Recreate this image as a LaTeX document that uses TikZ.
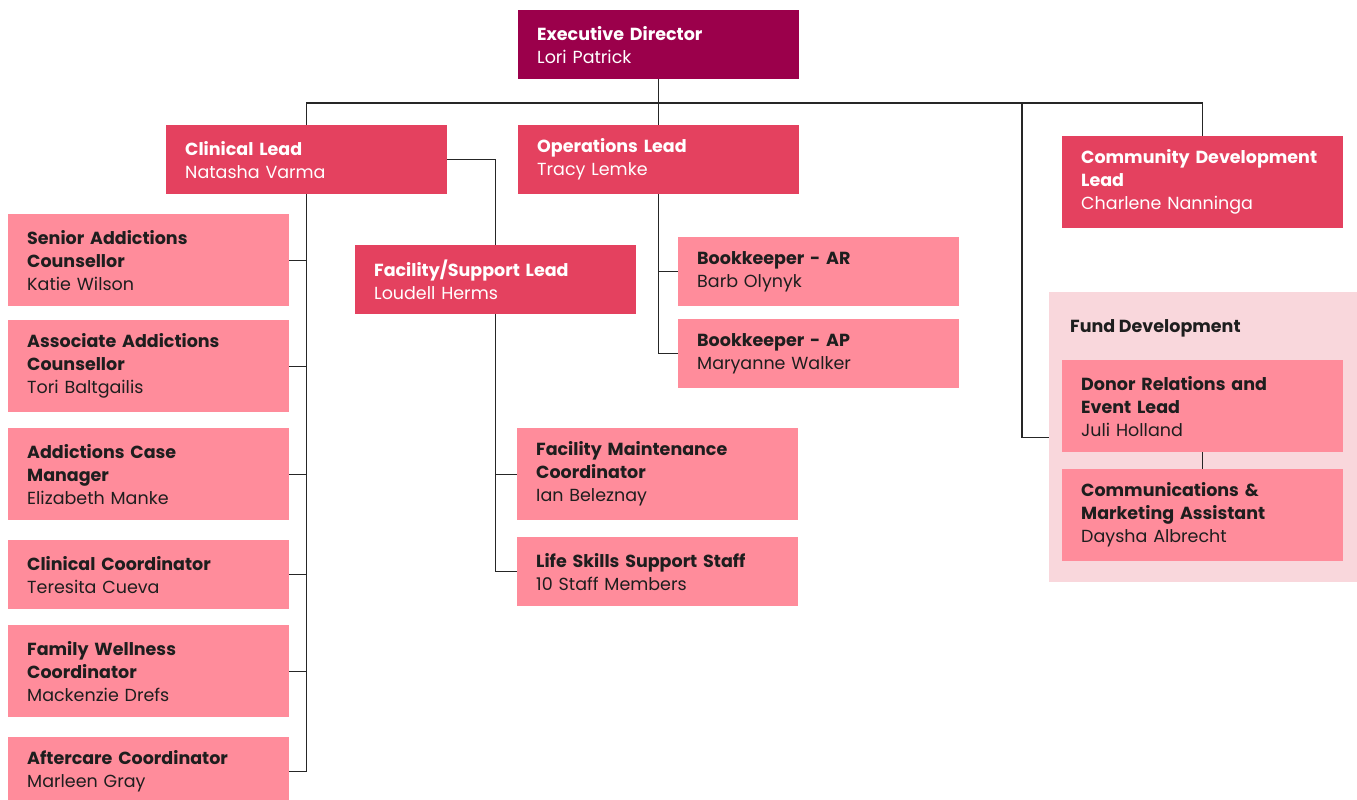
\documentclass[tikz,border=0pt]{standalone}
\usepackage{fontspec}
\setmainfont{Poppins}
\definecolor{execcol}{HTML}{9B004B}
\definecolor{leadcol}{HTML}{E4415F}
\definecolor{staffcol}{HTML}{FF8C9B}
\definecolor{groupcol}{HTML}{F9D7DC}
\definecolor{inkcol}{HTML}{1E1E1E}
\begin{document}
\begin{tikzpicture}[x=1pt,y=-1pt,
    box/.style={anchor=north west,rectangle,minimum height=69pt,inner xsep=19pt,inner ysep=2pt,text width=243pt,align=left,font=\fontsize{17.5}{23}\selectfont},
    tall/.style={minimum height=92pt},
    execbox/.style={box,fill=execcol,text=white},
    leadbox/.style={box,fill=leadcol,text=white},
    staffbox/.style={box,fill=staffcol,text=inkcol},
    link/.style={draw=black!85,line width=1.3pt}]
    \useasboundingbox (0,0) rectangle (1357,800);
    % fund development group
    \node[anchor=north west,fill=groupcol,minimum width=308pt,minimum height=290pt,inner sep=0pt] (fund) at (1049,292) {};
    \node[anchor=base west,inner sep=0pt,text=inkcol,font=\fontsize{17.5}{23}\selectfont\bfseries] (fundlbl) at (1070,332) {Fund Development};
    % top and leads
    \node[execbox] (exec) at (518,10) {\textbf{Executive Director}\\Lori Patrick};
    \node[leadbox] (clin) at (166,125) {\textbf{Clinical Lead}\\Natasha Varma};
    \node[leadbox] (ops) at (518,125) {\textbf{Operations Lead}\\Tracy Lemke};
    \node[leadbox,tall] (comm) at (1062,136) {\textbf{Community Development}\\\textbf{Lead}\\Charlene Nanninga};
    \node[leadbox] (fac) at (355,245) {\textbf{Facility/Support Lead}\\Loudell Herms};
    % clinical staff
    \node[staffbox,tall] (snr) at (8,214) {\textbf{Senior Addictions}\\\textbf{Counsellor}\\Katie Wilson};
    \node[staffbox,tall] (assoc) at (8,320) {\textbf{Associate Addictions}\\\textbf{Counsellor}\\Tori Baltgailis};
    \node[staffbox,tall] (casemgr) at (8,428) {\textbf{Addictions Case}\\\textbf{Manager}\\Elizabeth Manke};
    \node[staffbox] (clincoord) at (8,540) {\textbf{Clinical Coordinator}\\Teresita Cueva};
    \node[staffbox,tall] (family) at (8,625) {\textbf{Family Wellness}\\\textbf{Coordinator}\\Mackenzie Drefs};
    \node[staffbox] (aftercare) at (8,737) {\textbf{Aftercare Coordinator}\\Marleen Gray};
    % operations staff
    \node[staffbox] (bkar) at (678,237) {\textbf{Bookkeeper - AR}\\Barb Olynyk};
    \node[staffbox] (bkap) at (678,319) {\textbf{Bookkeeper - AP}\\Maryanne Walker};
    % facility staff
    \node[staffbox,tall] (maint) at (517,428) {\textbf{Facility Maintenance}\\\textbf{Coordinator}\\Ian Beleznay};
    \node[staffbox] (life) at (517,537) {\textbf{Life Skills Support Staff}\\10 Staff Members};
    % fund staff
    \node[staffbox,tall] (donor) at (1062,360) {\textbf{Donor Relations and}\\\textbf{Event Lead}\\Juli Holland};
    \node[staffbox,tall] (commsasst) at (1062,469) {\textbf{Communications \&}\\\textbf{Marketing Assistant}\\Daysha Albrecht};
    % connectors
    \coordinate (bus) at (0,103);
    \coordinate (fundjoin) at (1022,103);
    \draw[link] (exec.south) -- (ops.north);
    \draw[link] (clin.north) |- (bus -| comm.north) -- (comm.north);
    \draw[link] (fundjoin) |- (fund.west);
    \draw[link] (clin.east) -| (fac.north);
    \foreach \n in {snr,assoc,casemgr,clincoord,family,aftercare}
        \draw[link] (clin.south) |- (\n.east);
    \foreach \n in {bkar,bkap}
        \draw[link] (ops.south) |- (\n.west);
    \foreach \n in {maint,life}
        \draw[link] (fac.south) |- (\n.west);
    \draw[link] (donor.south) -- (commsasst.north);
\end{tikzpicture}
\end{document}
